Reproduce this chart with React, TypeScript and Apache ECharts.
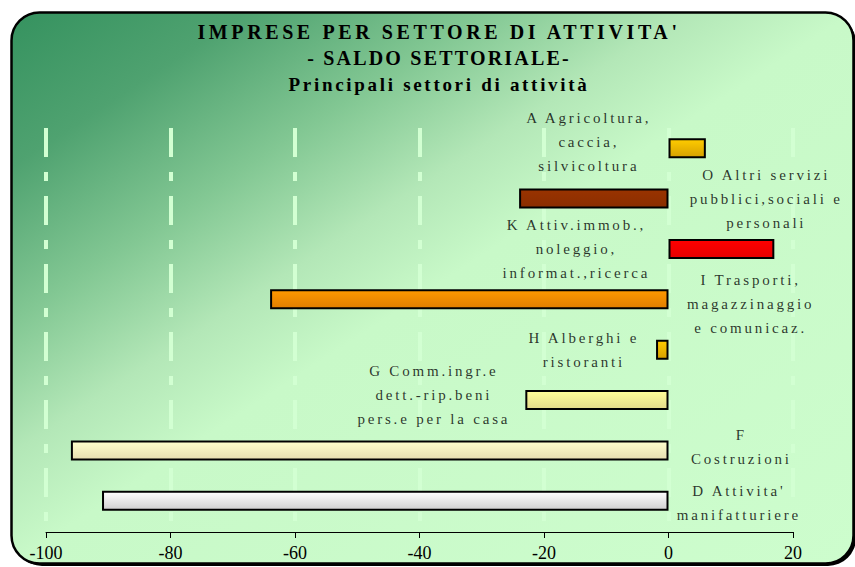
import React, { useEffect, useRef } from "react";
import * as echarts from "echarts";

const categories = [
  "A Agricoltura,\ncaccia,\nsilvicoltura",
  "O Altri servizi\npubblici,sociali e\npersonali",
  "K Attiv.immob.,\nnoleggio,\ninformat.,ricerca",
  "I Trasporti,\nmagazzinaggio\ne comunicaz.",
  "H Alberghi e\nristoranti",
  "G Comm.ingr.e\ndett.-rip.beni\npers.e per la casa",
  "F\nCostruzioni",
  "D Attivita'\nmanifatturiere",
];
const values = [6, -24, 17, -64, -2, -23, -96, -91];
const xTicks = { min: -100, max: 20, interval: 20 };
const titleLines = [
  "IMPRESE PER SETTORE DI ATTIVITA'",
  "- SALDO SETTORIALE-",
  "Principali settori di attività",
];

// bar fills: [top, bottom]
const barColors: [string, string][] = [
  ["#ffcc00", "#d6a100"],
  ["#993300", "#8a2e00"],
  ["#ff0000", "#e60000"],
  ["#ff9900", "#e07e00"],
  ["#ffcc00", "#d6a100"],
  ["#ffff99", "#e2da8a"],
  ["#ffffcc", "#e6deb0"],
  ["#ffffff", "#cfcfcf"],
];

// label layout: [x in axis units, vertical pixel offset]
const labelLayout: [number, number][] = [
  [-12.8, -6],
  [15.7, 0],
  [-14.8, 0],
  [13.2, 5],
  [-13.6, 0],
  [-37.7, -5],
  [11.7, -3],
  [11.3, 2],
];

const SERIF = "'Liberation Serif', 'Times New Roman', serif";
const fam = (tag: string) => `'Liberation Serif', '${tag}', serif`;

const css = `
svg text[style*="xTitleA"] { letter-spacing: 3.6px; }
svg text[style*="xTitleB"] { letter-spacing: 2.2px; }
svg text[style*="xTitleC"] { letter-spacing: 2.7px; }
svg text[style*="xLabel"] { letter-spacing: 2.8px; }
`;

export default function App() {
  const ref = useRef<HTMLDivElement>(null);
  useEffect(() => {
    document.body.style.margin = "0";
    const chart = echarts.init(ref.current!, null, { renderer: "svg" });
    const bg = new echarts.graphic.LinearGradient(0, 0, 1, 1, [
      { offset: 0, color: "#35925f" },
      { offset: 0.14, color: "#4fa270" },
      { offset: 0.28, color: "#82c793" },
      { offset: 0.4, color: "#b3e7b7" },
      { offset: 0.5, color: "#c8f9c8" },
      { offset: 1, color: "#cdfdcd" },
    ]);
    chart.setOption({
      animation: false,
      backgroundColor: "#ffffff",
      graphic: [
        {
          type: "rect",
          z: -20,
          shape: { x: 14, y: 15, width: 842, height: 551, r: 28 },
          style: { fill: "#000" },
        },
        {
          type: "rect",
          z: -10,
          shape: { x: 11.5, y: 12.5, width: 842, height: 551, r: 28 },
          style: { fill: bg, stroke: "#000", lineWidth: 2.5 },
        },
      ],
      title: titleLines.map((t, i) => ({
        text: t,
        left: 434,
        top: [17, 43, 70][i],
        textAlign: "center",
        textStyle: {
          fontFamily: fam(["xTitleA", "xTitleB", "xTitleC"][i]),
          fontWeight: "bold",
          fontSize: [20, 20, 19][i],
          color: "#000",
        },
      })),
      grid: { left: 46, right: 62, top: 123, height: 403 },
      xAxis: {
        type: "value",
        min: xTicks.min,
        max: xTicks.max,
        interval: xTicks.interval,
        position: "bottom",
        offset: 6,
        axisLine: { show: true, onZero: false, lineStyle: { color: "#000", width: 1 } },
        axisTick: { show: true, inside: false, length: 6, lineStyle: { color: "#000" } },
        axisLabel: { fontFamily: SERIF, fontSize: 18, color: "#000", margin: 12 },
        splitLine: {
          show: true,
          lineStyle: {
            color: "#d2ffd2",
            width: 4,
            type: [29, 15, 9, 15],
            dashOffset: 63,
          },
        },
      },
      yAxis: {
        type: "category",
        inverse: true,
        data: categories,
        axisLine: { show: false },
        axisTick: { show: false },
        axisLabel: { show: false },
        splitLine: { show: false },
      },
      series: [
        {
          type: "bar",
          barWidth: 20,
          data: values.map((v, i) => ({
            value: v,
            itemStyle: {
              color: new echarts.graphic.LinearGradient(0, 0, 0, 1, [
                { offset: 0, color: barColors[i][0] },
                { offset: 1, color: barColors[i][1] },
              ]),
              borderColor: "#000",
              borderWidth: 2,
            },
          })),
          z: 3,
        },
        {
          type: "scatter",
          symbolSize: 0,
          silent: true,
          z: 4,
          data: categories.map((c, i) => ({
            value: [labelLayout[i][0], i],
            label: { offset: [0, labelLayout[i][1]] },
          })),
          label: {
            show: true,
            position: "inside",
            formatter: (p: any) => categories[p.value[1]],
            fontFamily: fam("xLabel"),
            fontSize: 15,
            lineHeight: 24,
            color: "#000",
            align: "center",
            verticalAlign: "middle",
          },
        },
      ],
    });
    return () => chart.dispose();
  }, []);
  return (
    <>
      <style>{css}</style>
      <div ref={ref} style={{ width: 855, height: 567 }} />
    </>
  );
}
